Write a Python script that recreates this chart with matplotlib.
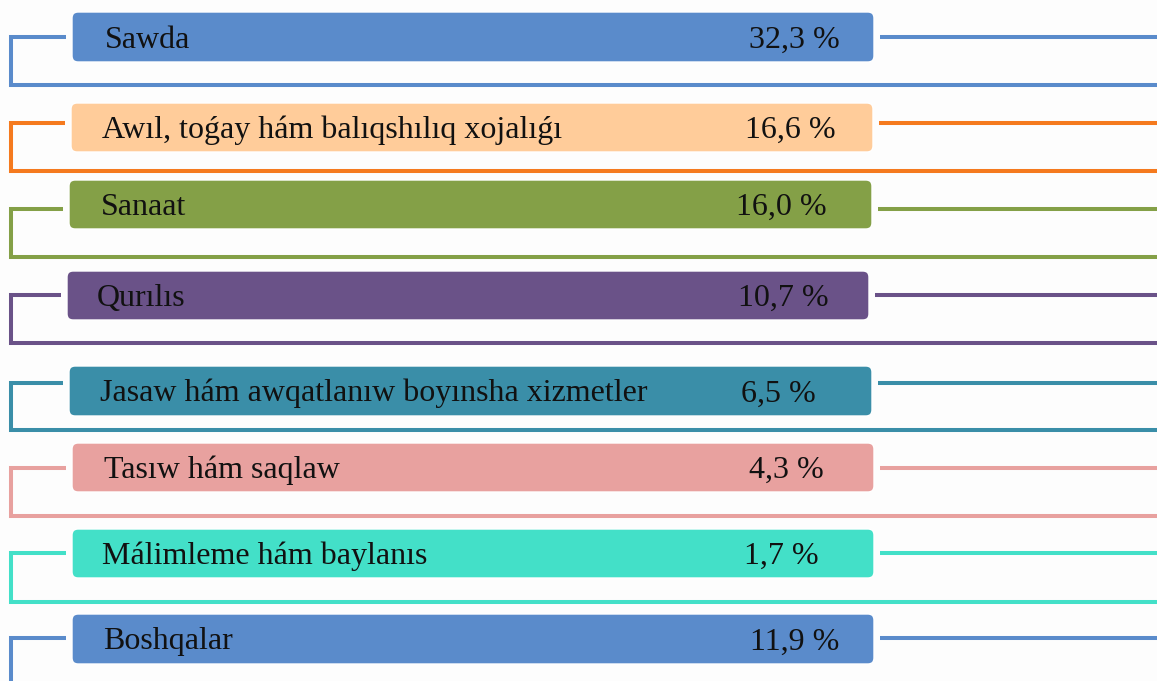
import matplotlib
matplotlib.use("Agg")
import matplotlib.pyplot as plt
from matplotlib.patches import FancyBboxPatch

# data
categories = [
    "Sawda",
    "Awıl, toǵay hám balıqshılıq xojalıǵı",
    "Sanaat",
    "Qurılıs",
    "Jasaw hám awqatlanıw boyınsha xizmetler",
    "Tasıw hám saqlaw",
    "Málimleme hám baylanıs",
    "Boshqalar",
]
shares = [32.3, 16.6, 16.0, 10.7, 6.5, 4.3, 1.7, 11.9]

box_colors = ["#5A8BCB", "#FFCC9A", "#84A047", "#6A5288",
              "#3A8EA8", "#E8A19F", "#43E0C8", "#5A8BCB"]
line_colors = ["#5A8BCB", "#F57A1E", "#84A047", "#6A5288",
               "#3A8EA8", "#E8A19F", "#43E0C8", "#5A8BCB"]

# layout (pixel space of the 1157x681 canvas)
W, H = 1157, 681
box_left = [72, 71, 69, 67, 69, 72, 72, 72]
box_right = [874, 873, 872, 869, 872, 874, 874, 874]
box_top = [12, 103, 180, 271, 366, 443, 529, 614]
box_bot = [62, 152, 229, 320, 416, 492, 578, 664]
stub_y = [37, 123, 209, 295, 383, 468, 553, 638]
bracket_y = [85, 171, 257, 343, 430, 516, 602, H + 5]
label_x = [105, 102, 101, 97, 100, 104, 102, 103]
value_x = [794, 790, 781, 783, 778, 786, 781, 795]
bracket_x = 11
lw = 2.9

fig = plt.figure(figsize=(W / 100, H / 100), dpi=100)
fig.patch.set_facecolor("#FDFDFD")
ax = fig.add_axes([0, 0, 1, 1])
ax.set_xlim(0, W)
ax.set_ylim(H, 0)
ax.axis("off")

font = ["Liberation Serif", "DejaVu Serif"]

for i, (name, val) in enumerate(zip(categories, shares)):
    lc = line_colors[i]
    # left bracket: stub -> down -> across to the right edge
    if i < len(categories) - 1:
        ax.plot([box_left[i] - 6, bracket_x, bracket_x, W],
                [stub_y[i], stub_y[i], bracket_y[i], bracket_y[i]],
                color=lc, lw=lw, solid_joinstyle="miter", solid_capstyle="butt")
    else:
        ax.plot([box_left[i] - 6, bracket_x, bracket_x],
                [stub_y[i], stub_y[i], bracket_y[i]],
                color=lc, lw=lw, solid_joinstyle="miter", solid_capstyle="butt")
    # right line
    ax.plot([box_right[i] + 6, W], [stub_y[i], stub_y[i]],
            color=lc, lw=lw, solid_capstyle="butt")

    box = FancyBboxPatch((box_left[i], box_top[i]),
                         box_right[i] - box_left[i], box_bot[i] - box_top[i],
                         boxstyle="round,pad=0,rounding_size=6",
                         facecolor=box_colors[i], edgecolor="white", lw=1.0)
    ax.add_patch(box)

    yc = (box_top[i] + box_bot[i]) / 2
    ax.text(label_x[i], yc + 10.5, name, family=font, fontsize=23,
            color="#111111", ha="left", va="baseline")
    label = f"{val:.1f}".replace(".", ",") + " %"
    ax.text(value_x[i], yc + 10.5, label, family=font, fontsize=23,
            color="#111111", ha="center", va="baseline")

fig.savefig("out.png", dpi=100, facecolor=fig.get_facecolor())
